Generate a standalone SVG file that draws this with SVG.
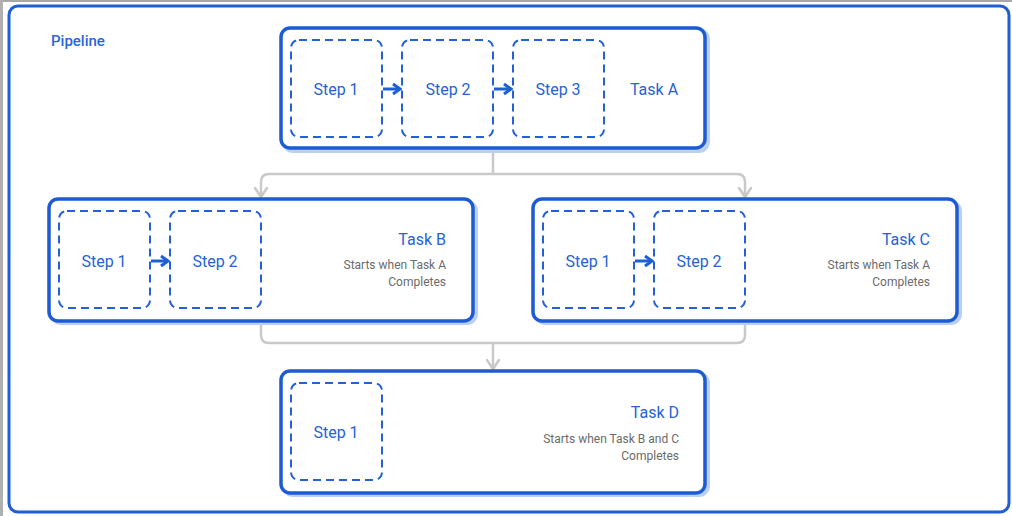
<svg xmlns="http://www.w3.org/2000/svg" width="1012" height="516" viewBox="0 0 1012 516">
<defs>
<style>
.frame{fill:none;stroke:#1f5fd6;stroke-width:3}
.shadow{fill:none;stroke:#bcd0f3;stroke-width:4}
.task{fill:#fff;stroke:#1c5bd4;stroke-width:3.5}
.step{fill:none;stroke:#2461d8;stroke-width:2;stroke-dasharray:8 5}
.conn{fill:none;stroke:#c9c9c9;stroke-width:2.5;stroke-linejoin:round}
.flow{fill:none;stroke:#1f5fd6;stroke-width:3}
.lbl{font-family:Roboto,"Liberation Sans",sans-serif;font-size:16px;fill:#2563d6;text-anchor:middle}
.title{font-family:Roboto,"Liberation Sans",sans-serif;font-size:16px;fill:#2563d6;text-anchor:end}
.sub{font-family:Roboto,"Liberation Sans",sans-serif;font-size:12px;fill:#6b6b6b;text-anchor:end}
</style>
<marker id="ah" markerWidth="14" markerHeight="16" refX="11" refY="8" orient="auto" markerUnits="userSpaceOnUse">
<path d="M2,2 L11,8 L2,14" fill="none" stroke="#c9c9c9" stroke-width="2.5" stroke-linejoin="round" stroke-linecap="round"/>
</marker>
<marker id="bh" markerWidth="12" markerHeight="14" refX="10" refY="7" orient="auto" markerUnits="userSpaceOnUse">
<path d="M3,2 L10,7 L3,12" fill="none" stroke="#1f5fd6" stroke-width="3" stroke-linejoin="miter"/>
</marker>
</defs>
<rect x="0" y="0" width="1012" height="516" fill="#ffffff"/>
<rect x="0" y="0" width="1012" height="2" fill="#a8a8a8"/>
<rect x="0" y="0" width="3" height="516" fill="#b0b0b0"/>
<g id="pipeline">
<rect x="9" y="6" width="1000" height="506" rx="9" class="frame"/>
<text x="51" y="46" font-family="Roboto,'Liberation Sans',sans-serif" font-size="15" font-weight="500" fill="#2a65d8">Pipeline</text>
</g>
<g id="connectors">
<path class="conn" d="M493,151 V174 M493,174 H269 Q261,174 261,182 V197" marker-end="url(#ah)"/>
<path class="conn" d="M493,174 H737 Q745,174 745,182 V197" marker-end="url(#ah)"/>
<path class="conn" d="M261,323 V335 Q261,343 269,343 H737 Q745,343 745,335 V323"/>
<path class="conn" d="M493,343 V369" marker-end="url(#ah)"/>
</g>
<g id="taskA">
<rect x="284" y="30" width="424" height="121" rx="9" class="shadow"/>
<rect x="281" y="28" width="424" height="120" rx="9" class="task"/>
<rect x="291" y="40" width="91" height="97" rx="8" class="step"/>
<rect x="402" y="40" width="91" height="97" rx="8" class="step"/>
<rect x="513" y="40" width="91" height="97" rx="8" class="step"/>
<path class="flow" d="M383,89 H400" marker-end="url(#bh)"/>
<path class="flow" d="M494,89 H511" marker-end="url(#bh)"/>
<text x="336" y="95" class="lbl">Step 1</text>
<text x="448" y="95" class="lbl">Step 2</text>
<text x="558" y="95" class="lbl">Step 3</text>
<text x="654" y="95" class="lbl">Task A</text>
</g>
<g id="taskB">
<rect x="52" y="202" width="424" height="121" rx="9" class="shadow"/>
<rect x="49" y="199" width="424" height="122" rx="9" class="task"/>
<rect x="59" y="211" width="91" height="97" rx="8" class="step"/>
<rect x="170" y="211" width="91" height="97" rx="8" class="step"/>
<path class="flow" d="M151,261 H168" marker-end="url(#bh)"/>
<text x="104" y="267" class="lbl">Step 1</text>
<text x="215" y="267" class="lbl">Step 2</text>
<text x="446" y="245" class="title">Task B</text>
<text x="446" y="269" class="sub">Starts when Task A</text>
<text x="446" y="286" class="sub">Completes</text>
</g>
<g id="taskC">
<rect x="536" y="202" width="424" height="121" rx="9" class="shadow"/>
<rect x="533" y="199" width="424" height="122" rx="9" class="task"/>
<rect x="543" y="211" width="91" height="97" rx="8" class="step"/>
<rect x="654" y="211" width="91" height="97" rx="8" class="step"/>
<path class="flow" d="M635,261 H652" marker-end="url(#bh)"/>
<text x="588" y="267" class="lbl">Step 1</text>
<text x="699" y="267" class="lbl">Step 2</text>
<text x="930" y="245" class="title">Task C</text>
<text x="930" y="269" class="sub">Starts when Task A</text>
<text x="930" y="286" class="sub">Completes</text>
</g>
<g id="taskD">
<rect x="284" y="374" width="424" height="121" rx="9" class="shadow"/>
<rect x="281" y="371" width="424" height="122" rx="9" class="task"/>
<rect x="291" y="383" width="91" height="97" rx="8" class="step"/>
<text x="336" y="438" class="lbl">Step 1</text>
<text x="679" y="418" class="title">Task D</text>
<text x="679" y="443" class="sub">Starts when Task B and C</text>
<text x="679" y="460" class="sub">Completes</text>
</g>
</svg>
